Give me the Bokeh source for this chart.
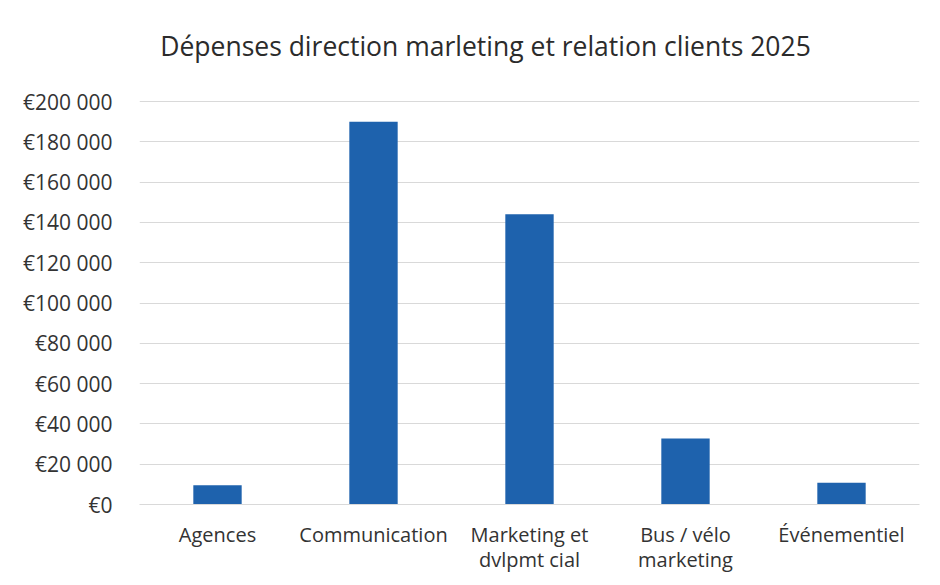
from bokeh.plotting import figure
from bokeh.models import ColumnDataSource, FixedTicker, CustomJSTickFormatter, Label
from bokeh.embed import file_html
from bokeh.resources import INLINE

categories = ["Agences", "Communication", "Marketing et\ndvlpmt cial", "Bus / vélo\nmarketing", "Événementiel"]
values = [9500, 190000, 144000, 32800, 10800]
y_ticks = [0, 20000, 40000, 60000, 80000, 100000, 120000, 140000, 160000, 180000, 200000]
y_max = 200000
title_text = "Dépenses direction marleting et relation clients 2025"

W, H = 932, 577
TOP, BOTTOM, LEFT, RIGHT = 20, 73, 139, 13
AXIS_TOP = 101                      # pixel row of the y_max gridline
frame_h = H - TOP - BOTTOM
plot_h = H - BOTTOM - AXIS_TOP      # pixels from 0 to y_max
y_end = y_max * frame_h / plot_h    # room above the axis for the title

p = figure(x_range=categories, y_range=(0, y_end), width=W, height=H,
           frame_width=W - LEFT - RIGHT, frame_height=frame_h,
           output_backend="svg", toolbar_location=None,
           min_border_left=LEFT, min_border_right=RIGHT, min_border_top=TOP, min_border_bottom=BOTTOM)
src = ColumnDataSource(dict(cat=categories, val=values))
p.vbar(x="cat", top="val", width=0.31, source=src, fill_color="#1E62AD", line_color=None)

p.outline_line_color = None
p.background_fill_color = "white"
p.border_fill_color = "white"
p.xgrid.grid_line_color = None
p.ygrid.grid_line_color = "#d9d9d9"
p.ygrid.grid_line_width = 1

p.yaxis.ticker = FixedTicker(ticks=y_ticks)
p.yaxis.formatter = CustomJSTickFormatter(code="""
    const s = Math.round(tick).toString();
    const parts = [];
    for (let i = s.length; i > 0; i -= 3) parts.unshift(s.slice(Math.max(0, i - 3), i));
    return '€' + parts.join(' ');
""")
p.yaxis.axis_line_color = None
p.yaxis.major_tick_line_color = None
p.yaxis.minor_tick_line_color = None
p.yaxis.major_label_standoff = 21
p.yaxis.major_label_text_font = "Open Sans"
p.yaxis.major_label_text_font_size = "21px"
p.yaxis.major_label_text_color = "#333333"

p.xaxis.axis_line_color = "#d9d9d9"
p.xaxis.major_tick_line_color = None
p.xaxis.minor_tick_line_color = None
p.xaxis.major_label_standoff = 10
p.xaxis.major_label_text_font = "Open Sans"
p.xaxis.major_label_text_font_size = "20px"
p.xaxis.major_label_text_color = "#333333"
p.xaxis.major_label_text_line_height = 0.95

title = Label(x=485 - LEFT, y=H - BOTTOM - 45, x_units="screen", y_units="screen",
              text=title_text, text_align="center", text_baseline="middle",
              text_font="Open Sans", text_font_size="26.5px", text_color="#2b2b2b")
p.add_layout(title)

open("out.html", "w").write(file_html(p, INLINE))
